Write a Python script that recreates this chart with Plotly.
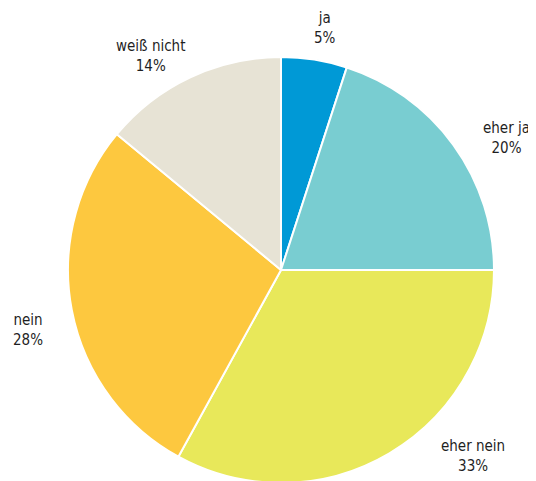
import math
import plotly.graph_objects as go

labels = ["ja", "eher ja", "eher nein", "nein", "weiß nicht"]
values = [5, 20, 33, 28, 14]
colors = ["#0099D6", "#79CDD1", "#E8E85A", "#FDC83F", "#E7E3D5"]

W, H = 536, 481
OFF = 8  # page body margin of the html document

# pie geometry in figure pixels (centre 281,270 on screen, radius 213)
cx_s, cy_s, R = 281, 270, 213
cx_px, cy_px = cx_s - OFF, cy_s - OFF
dom_x = [(cx_px - R) / W, (cx_px + R) / W]
dom_y = [(H - cy_px - R) / H, (H - cy_px + R) / H]

# label placement tweaks (radius factor, angle offset in degrees)
label_f = [1.155, 1.225, 1.255, 1.221, 1.176]
label_dt = [1.3, 5.6, -15.3, -2.5, -6.1]

fig = go.Figure(go.Pie(
    labels=labels,
    values=values,
    sort=False,
    direction="clockwise",
    rotation=0,
    marker=dict(colors=colors, line=dict(color="white", width=2)),
    textinfo="none",
    showlegend=False,
    hoverinfo="skip",
    domain=dict(x=dom_x, y=dom_y),
))

total = sum(values)
cum = 0
annotations = []
for lab, v, f, dt in zip(labels, values, label_f, label_dt):
    mid = (cum + v / 2) / total * 360 + dt
    cum += v
    th = math.radians(mid)
    px = cx_px + f * R * math.sin(th)
    py = cy_px - f * R * math.cos(th)
    annotations.append(dict(
        x=px / W, y=1 - py / H, xref="paper", yref="paper",
        text=f"{lab}<br>{v}%", showarrow=False,
        xanchor="center", yanchor="middle", align="center",
        font=dict(family="DejaVu Sans Condensed, sans-serif", size=15, color="#1f1f1f"),
    ))

fig.update_layout(
    width=W, height=H,
    margin=dict(l=0, r=0, t=0, b=0),
    paper_bgcolor="white",
    plot_bgcolor="white",
    annotations=annotations,
)

fig.write_html("out.html")
